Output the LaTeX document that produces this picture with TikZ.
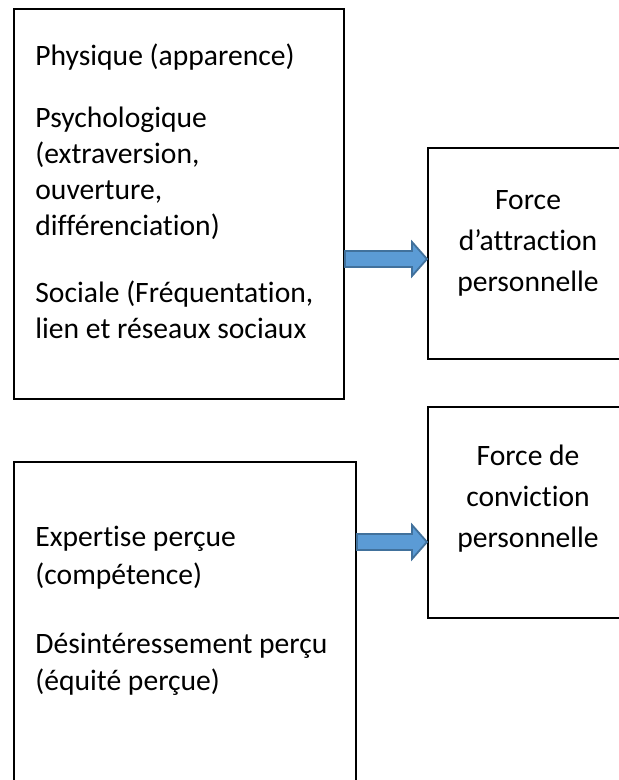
\documentclass[tikz,border=0pt]{standalone}
\usepackage{fontspec}
\setmainfont{Carlito}[Ligatures={NoCommon,NoContextual,NoRare}]
\usetikzlibrary{fit,calc}
\definecolor{flecheBleu}{HTML}{5B9BD5}
\definecolor{flecheBord}{HTML}{41719C}
\tikzset{
  cadre/.style={draw=black,line width=1pt,inner sep=0pt},
  ligne/.style={inner sep=0pt,font=\fontsize{14.8pt}{18pt}\selectfont},
  fleche/.style={fill=flecheBleu,draw=flecheBord,line width=0.9pt,line join=miter},
}
\begin{document}
\begin{tikzpicture}[x=0.5pt,y=-0.5pt]
    \useasboundingbox (0,0) rectangle (619,780);
    \clip (0,0) rectangle (619,780);
    % cadres
    \node[cadre,fit={(14,9) (344,399)}] (attrait) {};
    \node[cadre,fit={(428,148) (630,359)}] (attraction) {};
    \node[cadre,fit={(428,407) (630,618)}] (conviction) {};
    \node[cadre,fit={(14,462) (356,800)}] (credibilite) {};
    % textes
    \foreach \t/\y [count=\i] in {{Physique (apparence)}/66,{Psychologique}/128,{(extraversion,}/164,
        {ouverture,}/200,{différenciation)}/236,{Sociale (Fréquentation,}/302,{lien et réseaux sociaux}/338}
        \node[ligne,anchor=base west] (a\i) at (35,\y) {\t};
    \foreach \t/\y [count=\i] in {{Expertise perçue}/546,{(compétence)}/584,
        {Désintéressement perçu}/653,{(équité perçue)}/690}
        \node[ligne,anchor=base west] (c\i) at (35,\y) {\t};
    \foreach \t/\y [count=\i] in {{Force}/210,{d’attraction}/251,{personnelle}/292}
        \node[ligne,anchor=base] (f\i) at (528,\y) {\t};
    \foreach \t/\y [count=\i] in {{Force de}/465,{conviction}/506,{personnelle}/547}
        \node[ligne,anchor=base] (p\i) at (528,\y) {\t};
    % fleches
    \coordinate (f1d) at (attrait.east |- 0,259);
    \coordinate (f1a) at (attraction.west |- 0,259);
    \coordinate (f2d) at (credibilite.east |- 0,542);
    \coordinate (f2a) at (conviction.west |- 0,542);
    \foreach \de/\vers in {f1d/f1a,f2d/f2a}
        \draw[fleche] ($(\de)+(0,-8)$) -- ($(\vers)+(-15,-8)$) -- ($(\vers)+(-15,-17)$) -- (\vers)
            -- ($(\vers)+(-15,17)$) -- ($(\vers)+(-15,8)$) -- ($(\de)+(0,8)$) -- cycle;
\end{tikzpicture}
\end{document}
